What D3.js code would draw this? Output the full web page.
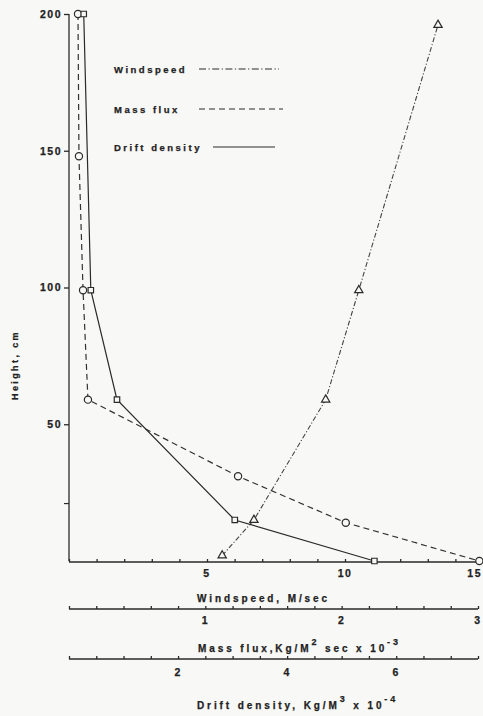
<!DOCTYPE html>
<html>
<head>
<meta charset="utf-8">
<script src="https://cdn.jsdelivr.net/npm/d3@7"></script>
<style>
    body { margin: 0; background: #f8f8f6; }
    svg { display: block; }
    text { font-family: "Liberation Sans", Arial, sans-serif; font-weight: bold; fill: #222; stroke: #222; stroke-width: 0.25px; }
</style>
</head>
<body>
<svg width="483" height="716"></svg>
<script>
// windspeed profile (triangles)
var windHeight = [2, 15, 59, 99, 196];
var windSpeed = [5.55, 6.7, 9.3, 10.5, 13.37];

// mass flux profile (circles)
var fluxHeight = [200, 148, 99, 59, 31, 14, 0];
var massFlux = [0.066, 0.073, 0.103, 0.139, 1.24, 2.03, 3.01];

// drift density profile (squares)
var driftHeight = [200, 99, 59, 15, 0];
var driftDensity = [0.27, 0.40, 0.88, 3.04, 5.6];

var heightTicks = [50, 100, 150, 200];
var windTicks = [5, 10, 15];
var fluxTicks = [1, 2, 3];
var driftTicks = [2, 4, 6];

var svg = d3.select("svg"),
    width = +svg.attr("width"),
    height = +svg.attr("height");

var ink = "#2a2a2a";

var y = d3.scaleLinear().domain([0, 200]).range([561, 14]);
var xWind = d3.scaleLinear().domain([0, 15]).range([69, 483]);
var xFlux = d3.scaleLinear().domain([0, 3]).range([69, 478]);
var xDrift = d3.scaleLinear().domain([0, 7.5]).range([69, 478]);

function styleAxis(g) {
    g.selectAll("path, line").attr("stroke", ink).attr("stroke-width", 1.3);
    g.selectAll(".tick text")
        .style("font-size", "10.5px")
        .style("letter-spacing", "1.5px")
        .attr("fill", "#222");
}

// height axis
svg.append("g")
    .attr("transform", "translate(69,0)")
    .call(d3.axisLeft(y).tickValues(heightTicks).tickSize(5).tickSizeOuter(0).tickPadding(2))
    .call(styleAxis)
    .call(function(g) { g.select(".domain").attr("d", "M0," + y(0) + "V" + y(200)); });

svg.append("line")
    .attr("x1", 64).attr("x2", 69)
    .attr("y1", y(21)).attr("y2", y(21))
    .attr("stroke", ink).attr("stroke-width", 1.2);

// three horizontal axes, ticks pointing up
function hAxis(scale, step, yPos, labels, labelDy) {
    var minor = d3.range(scale.domain()[0], scale.domain()[1] + step / 2, step);
    var g = svg.append("g").attr("transform", "translate(0," + yPos + ")");
    g.call(d3.axisTop(scale).tickValues(minor).tickSize(3).tickSizeOuter(0).tickFormat(""))
        .call(styleAxis);
    g.select(".domain").attr("d", "M" + scale.range()[0] + ",0H" + scale.range()[1]);
    g.selectAll(".lbl")
        .data(labels)
        .enter().append("text")
        .attr("x", function(d) { return Math.min(scale(d), width - 1); })
        .attr("y", labelDy)
        .attr("text-anchor", function(d) { return scale(d) > width - 4 ? "end" : "middle"; })
        .style("font-size", "10.5px")
        .style("letter-spacing", "1.5px")
        .text(function(d) { return d; });
}

hAxis(xWind, 1, 562, windTicks, 15);
hAxis(xFlux, 0.2, 609, fluxTicks, 15);
hAxis(xDrift, 0.5, 659, driftTicks, 17);

function label(x, yPos, parts) {
    var t = svg.append("text")
        .attr("x", x).attr("y", yPos)
        .style("font-size", "10px")
        .style("letter-spacing", "2.9px");
    parts.forEach(function(p) {
        t.append("tspan")
            .attr("dy", p.dy || 0)
            .style("font-size", p.sup ? "9px" : "10px")
            .text(p.t);
    });
}

label(197, 602, [{t: "Windspeed, M/sec"}]);
label(198, 652, [{t: "Mass flux,Kg/M"}, {t: "2", sup: true, dy: -7}, {t: " sec x 10", dy: 7}, {t: "-3", sup: true, dy: -7}]);
label(197, 709, [{t: "Drift density, Kg/M"}, {t: "3", sup: true, dy: -7}, {t: " x 10", dy: 7}, {t: "-4", sup: true, dy: -7}]);

svg.append("text")
    .attr("transform", "translate(18,400) rotate(-90)")
    .style("font-size", "9px")
    .style("letter-spacing", "2.4px")
    .text("Height, cm");

// profiles
var windDash = "5,2,1.2,2";
var fluxDash = "6,4";

var windLine = d3.line()
    .x(function(d, i) { return xWind(windSpeed[i]); })
    .y(function(d) { return y(d); });
var fluxLine = d3.line()
    .x(function(d, i) { return xFlux(massFlux[i]); })
    .y(function(d) { return y(d); });
var driftLine = d3.line()
    .x(function(d, i) { return xDrift(driftDensity[i]); })
    .y(function(d) { return y(d); });

svg.append("path").attr("d", windLine(windHeight))
    .attr("fill", "none").attr("stroke", "#444").attr("stroke-width", 1.1)
    .attr("stroke-dasharray", windDash);
svg.append("path").attr("d", fluxLine(fluxHeight))
    .attr("fill", "none").attr("stroke", "#333").attr("stroke-width", 1.2)
    .attr("stroke-dasharray", fluxDash);
svg.append("path").attr("d", driftLine(driftHeight))
    .attr("fill", "none").attr("stroke", ink).attr("stroke-width", 1.2);

var tri = d3.symbol().type(d3.symbolTriangle).size(30);
var sq = d3.symbol().type(d3.symbolSquare).size(30);

svg.selectAll(".tri")
    .data(windHeight)
    .enter().append("path")
    .attr("d", tri)
    .attr("transform", function(d, i) { return "translate(" + xWind(windSpeed[i]) + "," + y(d) + ")"; })
    .attr("fill", "#f8f8f6").attr("stroke", ink).attr("stroke-width", 1.2);

svg.selectAll(".circ")
    .data(fluxHeight)
    .enter().append("circle")
    .attr("cx", function(d, i) { return xFlux(massFlux[i]); })
    .attr("cy", function(d) { return y(d); })
    .attr("r", 3.6)
    .attr("fill", "#f8f8f6").attr("stroke", ink).attr("stroke-width", 1.2);

svg.selectAll(".sq")
    .data(driftHeight)
    .enter().append("path")
    .attr("d", sq)
    .attr("transform", function(d, i) { return "translate(" + xDrift(driftDensity[i]) + "," + y(d) + ")"; })
    .attr("fill", "#f8f8f6").attr("stroke", ink).attr("stroke-width", 1.2);

// legend
var legend = [
    {name: "Windspeed", y: 69, x1: 199, x2: 279, dash: "7,2.5,1.2,2.5"},
    {name: "Mass flux", y: 109, x1: 199, x2: 283, dash: fluxDash},
    {name: "Drift density", y: 147, x1: 213, x2: 275, dash: null}
];

legend.forEach(function(l) {
    svg.append("text")
        .attr("x", 114).attr("y", l.y + 3.5)
        .style("font-size", "9.5px")
        .style("letter-spacing", "2.5px")
        .text(l.name);
    svg.append("line")
        .attr("x1", l.x1).attr("x2", l.x2)
        .attr("y1", l.y).attr("y2", l.y)
        .attr("stroke", ink).attr("stroke-width", 1.1)
        .attr("stroke-dasharray", l.dash);
});
</script>
</body>
</html>
